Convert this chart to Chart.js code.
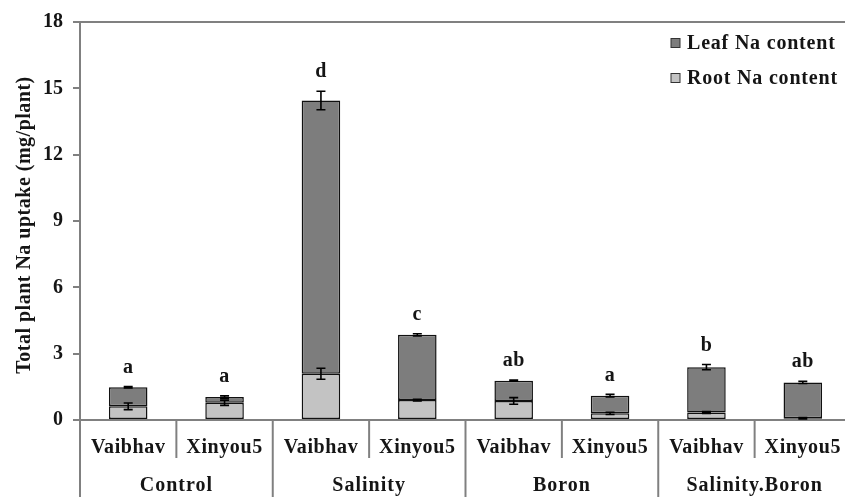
<!DOCTYPE html>
<html>
<head>
<meta charset="utf-8">
<script src="https://cdn.jsdelivr.net/npm/chart.js@4.4.1/dist/chart.umd.min.js"></script>
<style>
  html, body { margin: 0; padding: 0; background: #fff; overflow: hidden; }
  #wrap { width: 845px; height: 497px; overflow: hidden; }
</style>
</head>
<body>
<div id="wrap"><canvas id="c" width="851" height="497"></canvas></div>
<script>
// Treatments and cultivars (two cultivars per treatment)
const treatments = ['Control', 'Salinity', 'Boron', 'Salinity.Boron'];
const cultivars = ['Vaibhav', 'Xinyou5'];
const barLabels = ['Control Vaibhav', 'Control Xinyou5', 'Salinity Vaibhav', 'Salinity Xinyou5',
                   'Boron Vaibhav', 'Boron Xinyou5', 'Salinity.Boron Vaibhav', 'Salinity.Boron Xinyou5'];

// Na content (mg/plant)
const rootNa = [0.62, 0.78, 2.09, 0.90, 0.86, 0.30, 0.34, 0.08];
const leafNa = [0.86, 0.26, 12.36, 2.95, 0.92, 0.80, 2.05, 1.62];
// Standard errors
const rootErr = [0.15, 0.12, 0.25, 0.04, 0.15, 0.05, 0.04, 0.03];
const leafErr = [0.03, 0.05, 0.42, 0.05, 0.03, 0.06, 0.12, 0.05];
// Significance letters
const sigLetters = ['a', 'a', 'd', 'c', 'ab', 'a', 'b', 'ab'];

const yTicks = [0, 3, 6, 9, 12, 15, 18];
const yTitle = 'Total plant Na uptake (mg/plant)';

const SERIF = '"Liberation Serif", "DejaVu Serif", serif';
const LEAF_COLOR = '#7d7d7d';
const ROOT_COLOR = '#c3c3c3';
const AXIS_COLOR = '#808080';
const TEXT_COLOR = '#151515';

function spacedText(ctx, text, x, y, spacing) {
  ctx.letterSpacing = spacing + 'px';
  ctx.fillText(text, x, y);
  ctx.letterSpacing = '0px';
}

const decorations = {
  id: 'decorations',
  afterDatasetsDraw(chart) {
    const ctx = chart.ctx;
    const y = chart.scales.y;
    const rootMeta = chart.getDatasetMeta(0);

    ctx.save();
    ctx.strokeStyle = '#000';
    ctx.lineWidth = 1.6;
    // error bars
    const drawErr = (cx, v, e) => {
      const top = y.getPixelForValue(v + e);
      const bot = y.getPixelForValue(v - e);
      ctx.beginPath();
      ctx.moveTo(cx, top); ctx.lineTo(cx, bot);
      ctx.moveTo(cx - 4.5, top); ctx.lineTo(cx + 4.5, top);
      ctx.moveTo(cx - 4.5, bot); ctx.lineTo(cx + 4.5, bot);
      ctx.stroke();
    };
    for (let i = 0; i < barLabels.length; i++) {
      const cx = rootMeta.data[i].x;
      const total = rootNa[i] + leafNa[i];
      drawErr(cx, rootNa[i], rootErr[i]);
      drawErr(cx, total, leafErr[i]);
      // significance letter above the bar
      ctx.fillStyle = TEXT_COLOR;
      ctx.font = 'bold 20px ' + SERIF;
      ctx.textAlign = 'center';
      ctx.textBaseline = 'middle';
      spacedText(ctx, sigLetters[i], cx, y.getPixelForValue(total + leafErr[i]) - 19, 0.5);
    }
    ctx.restore();
  },
  afterDraw(chart) {
    const ctx = chart.ctx;
    const x = chart.scales.x;
    const area = chart.chartArea;
    const H = chart.height;
    const centers = barLabels.map((_, i) => x.getPixelForValue(i));
    const bounds = [area.left];
    for (let i = 1; i < centers.length; i++) bounds.push((centers[i - 1] + centers[i]) / 2);
    bounds.push(area.right);

    ctx.save();
    ctx.strokeStyle = AXIS_COLOR;
    ctx.lineWidth = 2;
    // separators under the axis
    for (let i = 0; i < bounds.length; i++) {
      ctx.beginPath();
      ctx.moveTo(bounds[i], area.bottom);
      ctx.lineTo(bounds[i], i % 2 === 0 ? H : area.bottom + 38);
      ctx.stroke();
    }
    // cultivar labels
    ctx.fillStyle = TEXT_COLOR;
    ctx.textAlign = 'center';
    ctx.textBaseline = 'middle';
    ctx.font = 'bold 20px ' + SERIF;
    for (let i = 0; i < centers.length; i++) {
      spacedText(ctx, cultivars[i % 2], centers[i], area.bottom + 28, 0.6);
    }
    // treatment labels
    for (let g = 0; g < treatments.length; g++) {
      const gx = (bounds[g * 2] + bounds[g * 2 + 2]) / 2;
      spacedText(ctx, treatments[g], gx, area.bottom + 66, 1);
    }
    // y-axis title
    ctx.save();
    ctx.translate(25, (area.top + area.bottom) / 2 + 4);
    ctx.rotate(-Math.PI / 2);
    ctx.font = 'bold 20px ' + SERIF;
    spacedText(ctx, yTitle, 0, 0, 0.5);
    ctx.restore();
    // legend
    const legend = [['Leaf Na content', LEAF_COLOR, 43], ['Root Na content', ROOT_COLOR, 78]];
    ctx.textAlign = 'left';
    ctx.font = 'bold 20px ' + SERIF;
    legend.forEach(([label, color, ly]) => {
      ctx.fillStyle = color;
      ctx.fillRect(671, ly - 4.5, 9, 9);
      ctx.strokeStyle = '#333';
      ctx.lineWidth = 1;
      ctx.strokeRect(671, ly - 4.5, 9, 9);
      ctx.fillStyle = TEXT_COLOR;
      spacedText(ctx, label, 687, ly + 1, 0.8);
    });
    ctx.restore();
  }
};

new Chart(document.getElementById('c'), {
  type: 'bar',
  data: {
    labels: barLabels,
    datasets: [
      { label: 'Root Na content', data: rootNa, backgroundColor: ROOT_COLOR, borderColor: '#111', borderWidth: 1.5, borderSkipped: false },
      { label: 'Leaf Na content', data: leafNa, backgroundColor: LEAF_COLOR, borderColor: '#111', borderWidth: 1.5, borderSkipped: false }
    ]
  },
  options: {
    responsive: false,
    devicePixelRatio: 1,
    animation: false,
    layout: { padding: { top: 18, right: 0, left: 0, bottom: 0 } },
    datasets: { bar: { categoryPercentage: 1.0, barPercentage: 0.4 } },
    plugins: { legend: { display: false }, tooltip: { enabled: false } },
    scales: {
      x: {
        stacked: true,
        grid: { display: false },
        border: { display: true, color: AXIS_COLOR, width: 2 },
        ticks: { display: false },
        afterFit(scale) { scale.height = 77; }
      },
      y: {
        stacked: true,
        min: 0,
        max: 18,
        afterBuildTicks(scale) { scale.ticks = yTicks.map(v => ({ value: v })); },
        grid: {
          color: ctx => (ctx.tick && ctx.tick.value === 18 ? AXIS_COLOR : 'rgba(0,0,0,0)'),
          lineWidth: 2,
          tickColor: AXIS_COLOR,
          tickLength: 7,
          drawOnChartArea: true
        },
        border: { display: true, color: AXIS_COLOR, width: 2 },
        ticks: {
          color: TEXT_COLOR,
          padding: 10,
          font: { family: SERIF, size: 20, weight: 'bold' }
        },
        afterFit(scale) { scale.width = 80; }
      }
    }
  },
  plugins: [decorations]
});
</script>
</body>
</html>
